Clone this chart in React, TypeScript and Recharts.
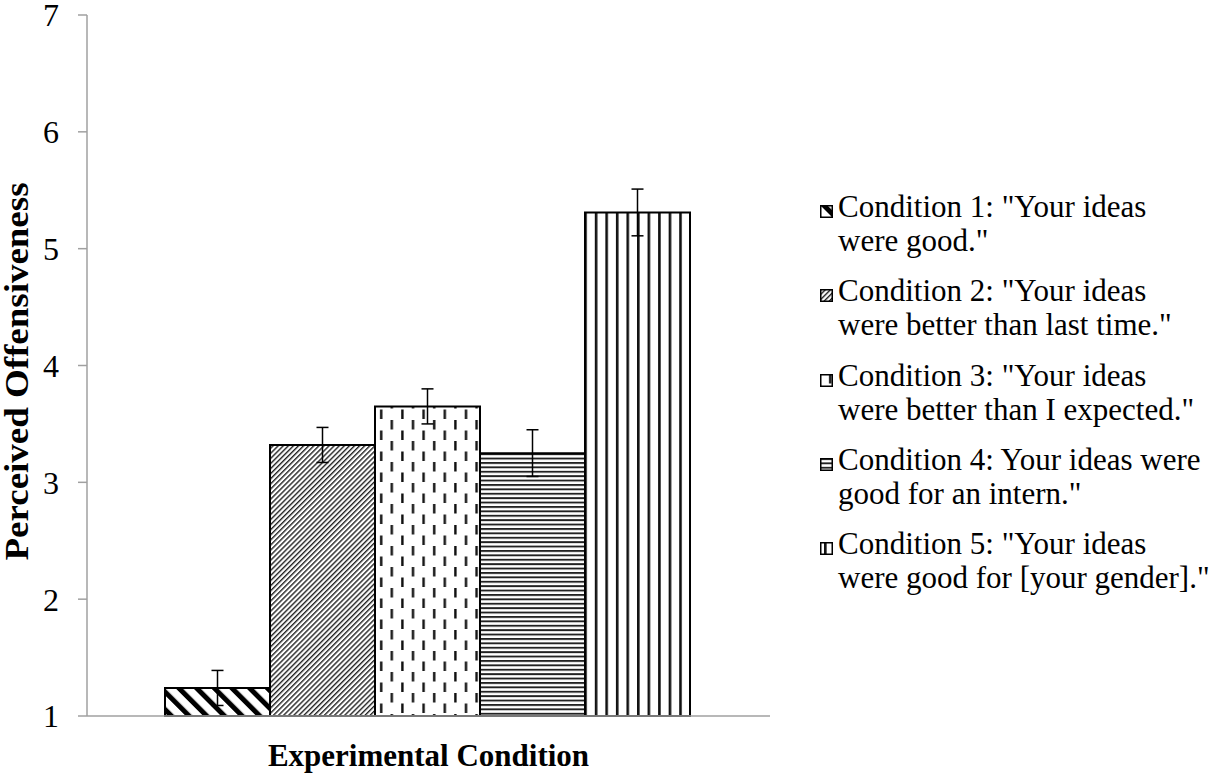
import { BarChart, Bar, XAxis, YAxis, ErrorBar } from 'recharts'

const FONT = "'Liberation Serif', 'Times New Roman', serif"
const AXIS_GREY = '#a0a0a0'

// one entry per condition, legend text split as in the original
const conditionLines = [
  ['Condition 1: "Your ideas', 'were good."'],
  ['Condition 2: "Your ideas', 'were better than last time."'],
  ['Condition 3: "Your ideas', 'were better than I expected."'],
  ['Condition 4: Your ideas were', 'good for an intern."'],
  ['Condition 5: "Your ideas', 'were good for [your gender]."'],
]
const means = [1.24, 3.32, 3.65, 3.25, 5.31]
const errors = [0.15, 0.15, 0.15, 0.2, 0.2]
const yTicks = [1, 2, 3, 4, 5, 6, 7]
const edgeTicks = [0, 1]

const row: Record<string, number | string> = { name: 'all' }
means.forEach((m, i) => {
  row[`c${i + 1}`] = m
  row[`e${i + 1}`] = errors[i]
})
const data = [row]

function Patterns() {
  return (
    <defs>
      {/* thick back-slash stripes */}
      <pattern id="p1" patternUnits="userSpaceOnUse" width={12.5} height={12.5} patternTransform="rotate(-45)">
        <rect width={12.5} height={12.5} fill="#fff" />
        <rect x={0} y={0} width={5} height={12.5} fill="#000" />
      </pattern>
      {/* fine forward-slash stripes */}
      <pattern id="p2" patternUnits="userSpaceOnUse" width={3.6} height={3.6} patternTransform="rotate(45)">
        <rect width={3.6} height={3.6} fill="#fff" />
        <rect x={0} y={0} width={1.4} height={3.6} fill="#222" />
      </pattern>
      {/* staggered vertical dashes */}
      <pattern id="p3" patternUnits="userSpaceOnUse" width={21.2} height={21} x={5}>
        <rect width={21.2} height={21} fill="#fff" />
        <rect x={4} y={0} width={2.4} height={9.5} fill="#111" />
        <rect x={14.6} y={10.5} width={2.4} height={9.5} fill="#111" />
      </pattern>
      {/* horizontal lines */}
      <pattern id="p4" patternUnits="userSpaceOnUse" width={8} height={4.4}>
        <rect width={8} height={4.4} fill="#fff" />
        <rect x={0} y={0} width={8} height={1.9} fill="#222" />
      </pattern>
      {/* vertical lines */}
      <pattern id="p5" patternUnits="userSpaceOnUse" width={10.55} height={8} x={4}>
        <rect width={10.55} height={8} fill="#fff" />
        <rect x={0} y={0} width={2.6} height={8} fill="#111" />
      </pattern>
    </defs>
  )
}

export default function App() {
  return (
    <div style={{ position: 'relative', width: 1217, height: 777, fontFamily: FONT }}>
      <style>{'body{margin:0;overflow:hidden}'}</style>
      <BarChart
        width={1217}
        height={777}
        data={data}
        margin={{ top: 15, right: 447, bottom: 0, left: 0 }}
        barCategoryGap={78}
        barGap={0}
      >
        <Patterns />
        <XAxis xAxisId="cat" dataKey="name" type="category" orientation="top" height={0} hide />
        <XAxis
          xAxisId="edge"
          type="number"
          domain={[0, 1]}
          ticks={edgeTicks}
          tick={false}
          tickSize={9}
          tickLine={{ stroke: AXIS_GREY, strokeWidth: 1.5 }}
          axisLine={{ stroke: AXIS_GREY, strokeWidth: 1.5 }}
          height={61}
          label={{
            content: (props: any) => {
              const vb = props.viewBox
              return (
                <text
                  x={vb.x + vb.width / 2}
                  y={vb.y + 50}
                  textAnchor="middle"
                  fontFamily={FONT}
                  fontWeight="bold"
                  fontSize={31}
                  fill="#000"
                >
                  Experimental Condition
                </text>
              )
            },
          }}
        />
        <YAxis
          type="number"
          domain={[1, 7]}
          ticks={yTicks}
          interval={0}
          width={87}
          tickSize={9}
          tickMargin={19}
          tickLine={{ stroke: AXIS_GREY, strokeWidth: 1.5 }}
          axisLine={{ stroke: AXIS_GREY, strokeWidth: 1.5 }}
          tick={{ fill: '#000', fontSize: 32, fontFamily: FONT }}
          label={{
            content: (props: any) => {
              const vb = props.viewBox
              const cx = 28
              const cy = vb.y + vb.height / 2 + 6
              return (
                <text
                  x={cx}
                  y={cy}
                  transform={`rotate(-90 ${cx} ${cy})`}
                  textAnchor="middle"
                  fontFamily={FONT}
                  fontWeight="bold"
                  fontSize={33}
                  textLength={378}
                  lengthAdjust="spacingAndGlyphs"
                  fill="#000"
                >
                  Perceived Offensiveness
                </text>
              )
            },
          }}
        />
        {means.map((_, i) => (
          <Bar
            key={i}
            xAxisId="cat"
            dataKey={`c${i + 1}`}
            fill={`url(#p${i + 1})`}
            stroke="#000"
            strokeWidth={2}
            isAnimationActive={false}
          >
            <ErrorBar
              dataKey={`e${i + 1}`}
              direction="y"
              width={6}
              stroke="#000"
              strokeWidth={1.5}
              isAnimationActive={false}
            />
          </Bar>
        ))}
      </BarChart>

      {/* legend on the right */}
      <div
        style={{
          position: 'absolute',
          left: 820,
          top: 190,
          fontSize: 31,
          lineHeight: '34px',
          color: '#000',
        }}
      >
        {conditionLines.map((lines, i) => (
          <div key={i} style={{ position: 'relative', height: 68, marginBottom: 16.25 }}>
            <svg width={13} height={13} style={{ position: 'absolute', left: 0, top: 15 }}>
              <rect x={0.75} y={0.75} width={11.5} height={11.5} fill={`url(#p${i + 1})`} stroke="#000" strokeWidth={1.5} />
            </svg>
            <div style={{ position: 'absolute', left: 18, top: 0, whiteSpace: 'nowrap' }}>
              {lines.map((l) => (
                <div key={l}>{l}</div>
              ))}
            </div>
          </div>
        ))}
      </div>
    </div>
  )
}
